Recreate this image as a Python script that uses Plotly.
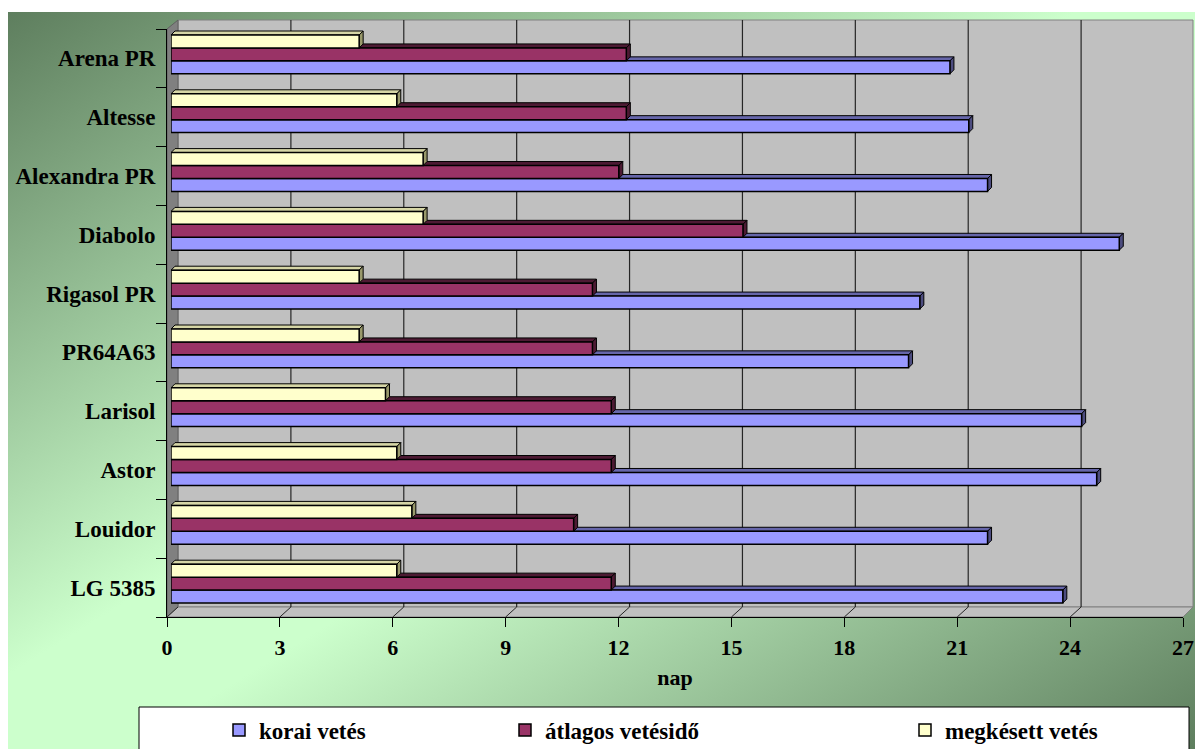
import base64
import plotly.graph_objects as go

# ---------------- data ----------------
categories = ["LG 5385", "Louidor", "Astor", "Larisol", "PR64A63",
              "Rigasol PR", "Diabolo", "Alexandra PR", "Altesse", "Arena PR"]
korai_vetes = [23.7, 21.7, 24.6, 24.2, 19.6, 19.9, 25.2, 21.7, 21.2, 20.7]
atlagos_vetesido = [11.7, 10.7, 11.7, 11.7, 11.2, 11.2, 15.2, 11.9, 12.1, 12.1]
megkesett_vetes = [6.0, 6.4, 6.0, 5.7, 5.0, 5.0, 6.7, 6.7, 6.0, 5.0]
series_names = ["korai vetés", "átlagos vetésidő", "megkésett vetés"]
x_ticks = [0, 3, 6, 9, 12, 15, 18, 21, 24, 27]
x_title = "nap"

# ---------------- geometry helpers ----------------
W, H = 1195, 749
def px(x):
    return x / W
def py(y):
    return 1 - y / H

FONT = "Liberation Serif, Times New Roman, serif"
BAR_GAP = 0.34
DEPTH_X = 11       # px offset of back wall
FACE_PX = 4        # bar 3D face depth (px)
UNIT_PX = (1187 - 171) / 27.0
CAT_PX = (613 - 25) / 10.0

styles = [
    dict(color="#9999FF", top="#6666AA", side="#4D4D80"),
    dict(color="#993366", top="#4D1A33", side="#4D1A33"),
    dict(color="#FFFFCC", top="#D6D6A6", side="#99996B"),
]
values = [korai_vetes, atlagos_vetesido, megkesett_vetes]

fig = go.Figure()
legend_ids = ["legend", "legend2", "legend3"]
for k, (name, vals, st) in enumerate(zip(series_names, values, styles)):
    fig.add_trace(go.Bar(
        y=categories, x=vals, orientation="h", name=name,
        marker=dict(color=st["color"], line=dict(color="black", width=1.5)),
        xaxis="x", yaxis="y", legend=legend_ids[k], hoverinfo="x+y",
    ))

# invisible helper trace that carries the visible front axes
fig.add_trace(go.Scatter(x=[0] * len(categories), y=categories, mode="none",
                         xaxis="x2", yaxis="y2", showlegend=False, hoverinfo="skip"))

shapes = []
# back wall
shapes.append(dict(type="rect", xref="paper", yref="paper",
                   x0=px(178), x1=px(1193), y0=py(607), y1=py(20),
                   fillcolor="#C0C0C0", line=dict(color="#808080", width=1), layer="below"))
# left wall
shapes.append(dict(type="path", xref="paper", yref="paper",
                   path=f"M {px(167)},{py(29)} L {px(178)},{py(20)} L {px(178)},{py(607)} L {px(167)},{py(617)} Z",
                   fillcolor="#808080", line=dict(color="#606060", width=1), layer="below"))
# floor
shapes.append(dict(type="path", xref="paper", yref="paper",
                   path=f"M {px(167)},{py(617)} L {px(178)},{py(607)} L {px(1193)},{py(607)} L {px(1183)},{py(617)} Z",
                   fillcolor="#C0C0C0", line=dict(color="#808080", width=1), layer="below"))
# gridlines on back wall + diagonals on the floor
for v in x_ticks:
    if 0 < v < x_ticks[-1]:
        shapes.append(dict(type="line", xref="x2", yref="paper", xsizemode="pixel", xanchor=v,
                           x0=DEPTH_X, x1=DEPTH_X, y0=py(607), y1=py(20),
                           line=dict(color="#262626", width=1.2), layer="below"))
    shapes.append(dict(type="line", xref="x2", yref="paper", xsizemode="pixel", xanchor=v,
                       x0=0, x1=DEPTH_X, y0=py(617), y1=py(607),
                       line=dict(color="#262626", width=1), layer="below"))

# bar 3D faces (top + right side), computed from the data
n = len(values)
w = (1 - BAR_GAP) / n
dx = FACE_PX / UNIT_PX
dy = FACE_PX / CAT_PX
for k, (vals, st) in enumerate(zip(values, styles)):
    for i, v in enumerate(vals):
        yb = i - (1 - BAR_GAP) / 2 + k * w
        yt = yb + w
        shapes.append(dict(type="path", xref="x", yref="y",
                           path=f"M 0,{yt} L {v},{yt} L {v+dx},{yt+dy} L {dx},{yt+dy} Z",
                           fillcolor=st["top"], line=dict(color="black", width=1), layer="below"))
        shapes.append(dict(type="path", xref="x", yref="y",
                           path=f"M {v},{yb} L {v+dx},{yb+dy} L {v+dx},{yt+dy} L {v},{yt} Z",
                           fillcolor=st["side"], line=dict(color="black", width=1), layer="below"))

# legend box
shapes.append(dict(type="rect", xref="paper", yref="paper",
                   x0=px(139), x1=px(1189), y0=-0.02, y1=py(707),
                   fillcolor="white", line=dict(color="black", width=1), layer="below"))

# gradient background of the chart area
svg = (
    '<svg xmlns="http://www.w3.org/2000/svg" width="1187" height="737" viewBox="0 0 1187 737" '
    'preserveAspectRatio="none"><defs><linearGradient id="g" x1="0" y1="0" x2="1" y2="1">'
    '<stop offset="0" stop-color="#5E7E5E"/><stop offset="0.45" stop-color="#CCFFCC"/>'
    '<stop offset="0.55" stop-color="#CCFFCC"/><stop offset="1" stop-color="#5E7E5E"/>'
    '</linearGradient></defs><rect width="1187" height="737" fill="url(#g)"/></svg>'
)
src = "data:image/svg+xml;base64," + base64.b64encode(svg.encode()).decode()

legend_font = dict(family=FONT, size=23, color="black", weight="bold")
def leg(xpix):
    return dict(x=px(xpix), y=py(730), xanchor="left", yanchor="middle",
                orientation="h", bgcolor="rgba(0,0,0,0)", borderwidth=0, font=legend_font)

fig.update_layout(
    width=W, height=H,
    template="none",
    margin=dict(l=0, r=0, t=0, b=0, pad=0, autoexpand=False),
    paper_bgcolor="white",
    plot_bgcolor="rgba(0,0,0,0)",
    barmode="group", bargap=BAR_GAP, bargroupgap=0,
    showlegend=True,
    legend=leg(219), legend2=leg(505), legend3=leg(905),
    hovermode=False,
    shapes=shapes,
    images=[dict(source=src, xref="paper", yref="paper", x=px(8), y=py(12),
                 sizex=(W - 8) / W, sizey=(H - 12) / H, xanchor="left", yanchor="top",
                 sizing="stretch", layer="below")],
    xaxis=dict(domain=[px(171), px(1187)], range=[0, x_ticks[-1]], visible=False,
               anchor="y", automargin=False, fixedrange=True),
    yaxis=dict(domain=[py(613), py(25)], type="category", categoryorder="array",
               categoryarray=categories, range=[-0.5, len(categories) - 0.5],
               visible=False, anchor="x", automargin=False, fixedrange=True),
    xaxis2=dict(domain=[px(167), px(1183)], range=[0, x_ticks[-1]], anchor="y2",
                tickmode="array", tickvals=x_ticks, ticks="outside", ticklen=9,
                tickwidth=1, tickcolor="black", showline=True, linecolor="black",
                linewidth=1, showgrid=False, zeroline=False, automargin=False,
                ticklabelstandoff=2,
                tickfont=dict(family=FONT, size=22, color="black", weight="bold"),
                title=dict(text=x_title, standoff=10,
                           font=dict(family=FONT, size=22, color="black", weight="bold")),
                fixedrange=True),
    yaxis2=dict(domain=[py(617), py(29)], type="category", categoryorder="array",
                categoryarray=categories, range=[-0.5, len(categories) - 0.5],
                anchor="x2", ticks="outside", ticklen=10, tickwidth=1, tickcolor="black",
                tickson="boundaries", showline=True, linecolor="black", linewidth=1,
                showgrid=False, zeroline=False, automargin=False, ticklabelstandoff=6,
                tickfont=dict(family=FONT, size=23, color="black", weight="bold"),
                fixedrange=True),
)

fig.write_html("out.html", config={"displayModeBar": False})
